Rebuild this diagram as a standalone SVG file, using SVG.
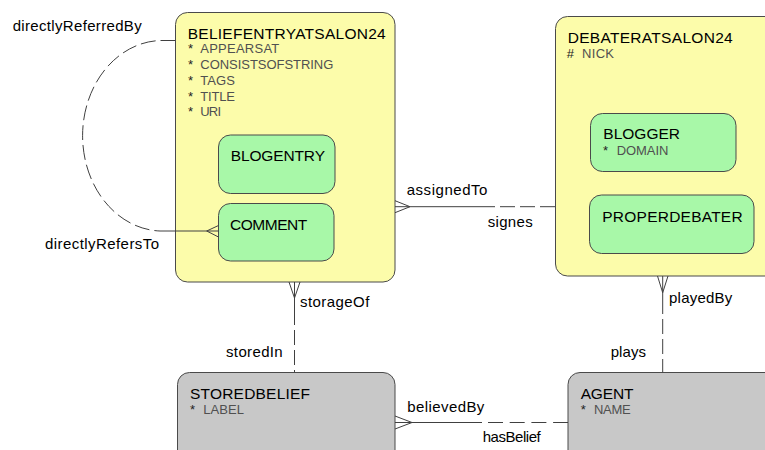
<svg xmlns="http://www.w3.org/2000/svg" width="765" height="450" viewBox="0 0 765 450">
<style>
text{font-family:"Liberation Sans",Arial,sans-serif}
.box{stroke:#4a4a4a;stroke-width:1}
.y{fill:#fcfcaa}
.g{fill:#a8f8a8}
.gr{fill:#c8c8c8}
.t{font-size:15.5px;fill:#000}
.a{font-size:13px;fill:#505050}
.s{font-size:13px;fill:#222}
.l{font-size:15px;fill:#000}
.c{fill:none;stroke:#404040;stroke-width:1}
.d{stroke-dasharray:15,5}
</style>
<rect width="765" height="450" fill="#fff"/>
<g id="beliefentryatsalon24">
<rect class="box y" x="175.5" y="12.5" width="219.5" height="269.5" rx="12"/>
<text class="t" x="187.7" y="39" textLength="198" lengthAdjust="spacing">BELIEFENTRYATSALON24</text>
<text class="s" x="188" y="53.3">*</text><text class="a" x="200.3" y="53.3" textLength="79" lengthAdjust="spacing">APPEARSAT</text>
<text class="s" x="188" y="69">*</text><text class="a" x="200.3" y="69" textLength="133" lengthAdjust="spacing">CONSISTSOFSTRING</text>
<text class="s" x="188" y="85">*</text><text class="a" x="200.3" y="85" textLength="34.7" lengthAdjust="spacing">TAGS</text>
<text class="s" x="188" y="100.7">*</text><text class="a" x="200.3" y="100.7" textLength="34.7" lengthAdjust="spacing">TITLE</text>
<text class="s" x="188" y="115.7">*</text><text class="a" x="200.3" y="115.7" textLength="20.7" lengthAdjust="spacing">URI</text>
</g>
<g id="blogentry">
<rect class="box g" x="218.5" y="135" width="116.5" height="58.5" rx="12"/>
<text class="t" x="230.7" y="161" textLength="94.3" lengthAdjust="spacing">BLOGENTRY</text>
</g>
<g id="comment">
<rect class="box g" x="218.5" y="203.5" width="115.5" height="57.5" rx="12"/>
<text class="t" x="230" y="230" textLength="77.3" lengthAdjust="spacing">COMMENT</text>
</g>
<g id="debateratsalon24">
<rect class="box y" x="555.5" y="16.5" width="240" height="259.5" rx="12"/>
<text class="t" x="567.7" y="43.3" textLength="165" lengthAdjust="spacing">DEBATERATSALON24</text>
<text class="s" x="566.7" y="58.3">#</text><text class="a" x="582" y="58.3" textLength="32" lengthAdjust="spacing">NICK</text>
</g>
<g id="blogger">
<rect class="box g" x="590.5" y="113.5" width="145.5" height="58" rx="12"/>
<text class="t" x="603.3" y="139.3" textLength="76.7" lengthAdjust="spacing">BLOGGER</text>
<text class="s" x="603" y="155">*</text><text class="a" x="616.7" y="155" textLength="51.7" lengthAdjust="spacing">DOMAIN</text>
</g>
<g id="properdebater">
<rect class="box g" x="589.5" y="195" width="164.5" height="58.5" rx="12"/>
<text class="t" x="602.3" y="221.7" textLength="140.3" lengthAdjust="spacing">PROPERDEBATER</text>
</g>
<g id="storedbelief">
<rect class="box gr" x="177.5" y="372.5" width="217.5" height="100" rx="12"/>
<text class="t" x="190" y="399" textLength="120" lengthAdjust="spacing">STOREDBELIEF</text>
<text class="s" x="190" y="414">*</text><text class="a" x="203.3" y="414" textLength="40.7" lengthAdjust="spacing">LABEL</text>
</g>
<g id="agent">
<rect class="box gr" x="568" y="372.5" width="250" height="100" rx="12"/>
<text class="t" x="580.7" y="399" textLength="52.7" lengthAdjust="spacing">AGENT</text>
<text class="s" x="580.7" y="413.5">*</text><text class="a" x="594" y="413.5" textLength="36.7" lengthAdjust="spacing">NAME</text>
</g>
<g id="connectors">
<path class="c d" d="M175.5,40.5 H160 A80,95.3 0 0 0 160,231"/>
<path class="c" d="M160,231 H218.5 M218.5,225.5 L206.7,231 L218.5,237"/>
<path class="c" d="M395,206.7 H480 M395,200.7 L410,206.7 L395,212.7"/>
<path class="c d" d="M480,206.7 H555.5"/>
<path class="c" d="M294.5,282 V325 M289,282 L294.5,298 L300,282"/>
<path class="c d" d="M294.5,330 V372.5"/>
<path class="c" d="M662.7,276 V314 M657.5,276 L662.7,292.7 L668,276"/>
<path class="c d" d="M662.7,319 V372.5"/>
<path class="c" d="M395,422.5 H482 M395,416 L412,422.5 L395,429"/>
<path class="c" stroke-dasharray="15,6.7" d="M488,422.5 H568"/>
</g>
<g id="labels">
<text class="l" x="12.7" y="30.7" textLength="129" lengthAdjust="spacing">directlyReferredBy</text>
<text class="l" x="45" y="249.3" textLength="114" lengthAdjust="spacing">directlyRefersTo</text>
<text class="l" x="406.7" y="195" textLength="80.7" lengthAdjust="spacing">assignedTo</text>
<text class="l" x="487.7" y="226.7" textLength="45" lengthAdjust="spacing">signes</text>
<text class="l" x="300" y="307.3" textLength="69.3" lengthAdjust="spacing">storageOf</text>
<text class="l" x="226" y="357.3" textLength="56.7" lengthAdjust="spacing">storedIn</text>
<text class="l" x="407.3" y="412" textLength="77" lengthAdjust="spacing">believedBy</text>
<text class="l" x="482.7" y="441.5" textLength="58" lengthAdjust="spacing">hasBelief</text>
<text class="l" x="669" y="303.3" textLength="63.3" lengthAdjust="spacing">playedBy</text>
<text class="l" x="610.7" y="357.3" textLength="35.3" lengthAdjust="spacing">plays</text>
</g>
</svg>
